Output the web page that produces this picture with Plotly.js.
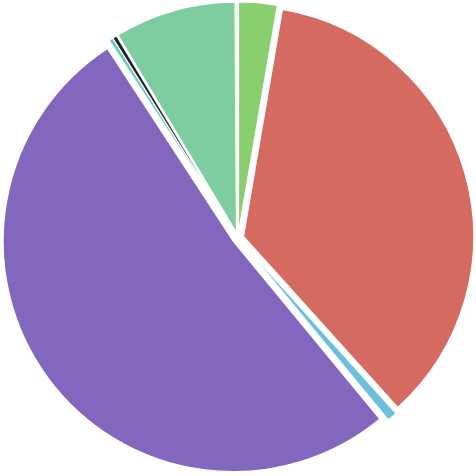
<!DOCTYPE html>
<html>
<head>
<meta charset="utf-8">
<script src="https://cdn.plot.ly/plotly-3.0.1.min.js"></script>
<style>html,body{margin:0;padding:0;background:#fff;}#chart{width:476px;height:476px;}</style>
</head>
<body>
<div id="chart"></div>
<script>
var labels = ["Green", "Red", "Light blue", "Purple", "Aqua", "Black", "Teal", "Gray"];
var values = [2.7, 35.6, 0.7, 51.75, 0.3, 0.3, 8.5, 0.1];
var colors = ["#89cf6e", "#d46a60", "#6bbfdc", "#8366bd", "#6ccbc0", "#222222", "#7ecda0", "#bbbbbb"];
var pulls = [0.025, 0.025, 0.025, 0.025, 0.025, 0.025, 0.025, 0.025];

Plotly.newPlot("chart", [{
  type: "pie",
  labels: labels,
  values: values,
  sort: false,
  direction: "clockwise",
  rotation: 0,
  pull: pulls,
  textinfo: "none",
  hoverinfo: "label+percent",
  marker: {colors: colors, line: {color: "#ffffff", width: 1.2}}
}], {
  width: 476, height: 476,
  margin: {l: 2, r: 2, t: 2, b: 2, pad: 0},
  showlegend: false,
  paper_bgcolor: "#ffffff"
}, {displayModeBar: false, staticPlot: true});
</script>
</body>
</html>
